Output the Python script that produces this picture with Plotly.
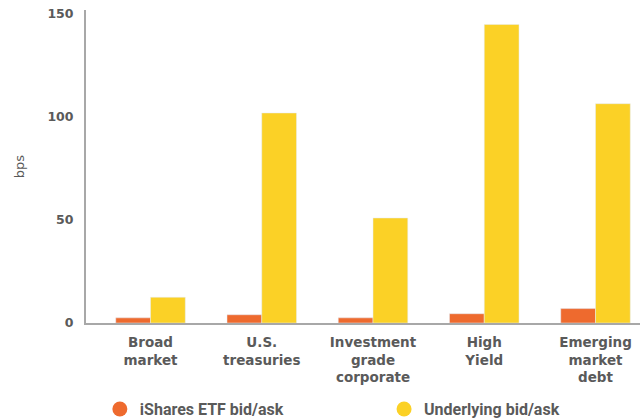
import plotly.graph_objects as go

categories = ["Broad<br>market", "U.S.<br>treasuries", "Investment<br>grade<br>corporate",
              "High<br>Yield", "Emerging<br>market<br>debt"]
etf_bid_ask = [2.5, 4, 2.5, 4.5, 7]
underlying_bid_ask = [12.5, 102, 51, 145, 106.5]
series_names = ["iShares ETF bid/ask", "Underlying bid/ask"]
y_ticks = [0, 50, 100, 150]

ORANGE = "#EE6A2E"
YELLOW = "#FBD126"
GREY_TEXT = "#5A5A5A"
AXIS_GREY = "#A8A8A8"
FONT = "DejaVu Sans"
LEGEND_FONT = "Roboto"

fig = go.Figure()
fig.add_bar(x=categories, y=etf_bid_ask, marker_color=ORANGE, showlegend=False,
            name=series_names[0])
fig.add_bar(x=categories, y=underlying_bid_ask, marker_color=YELLOW, showlegend=False,
            name=series_names[1])

# circular legend swatches, one legend box per series
for name, color, leg in zip(series_names, [ORANGE, YELLOW], ["legend", "legend2"]):
    fig.add_scatter(x=[None], y=[None], mode="markers", name=name, legend=leg,
                    marker=dict(color=color, size=15, symbol="circle"))

legend_style = dict(
    orientation="h", xanchor="left", y=-0.275, yanchor="middle",
    font=dict(family=LEGEND_FONT, size=16, color=GREY_TEXT, weight="bold"),
    itemwidth=30, bgcolor="rgba(0,0,0,0)",
)

fig.update_layout(
    width=641, height=420,
    margin=dict(l=86, r=1, t=10, b=97, autoexpand=False),
    paper_bgcolor="white", plot_bgcolor="white",
    barmode="group", bargap=0.375, bargroupgap=0,
    font=dict(family=FONT, color=GREY_TEXT, size=13),
    xaxis=dict(
        range=[-0.58, 4.4], automargin=False,
        showline=True, linecolor=AXIS_GREY, linewidth=2,
        showgrid=False, ticks="", zeroline=False,
        ticklabelstandoff=6,
        tickfont=dict(family=FONT, size=13.5, color=GREY_TEXT, weight="bold"),
    ),
    yaxis=dict(
        range=[0, 152], automargin=False,
        tickvals=y_ticks,
        showline=True, linecolor=AXIS_GREY, linewidth=2,
        showgrid=False, ticks="", zeroline=False,
        ticklabelstandoff=8,
        tickfont=dict(family=FONT, size=12.5, color=GREY_TEXT, weight="bold"),
        title=dict(text="bps", standoff=20,
                   font=dict(family=FONT, size=13, color=GREY_TEXT)),
    ),
    legend=dict(x=0.025, **legend_style),
    legend2=dict(x=0.538, **legend_style),
)

fig.write_html("out.html")
